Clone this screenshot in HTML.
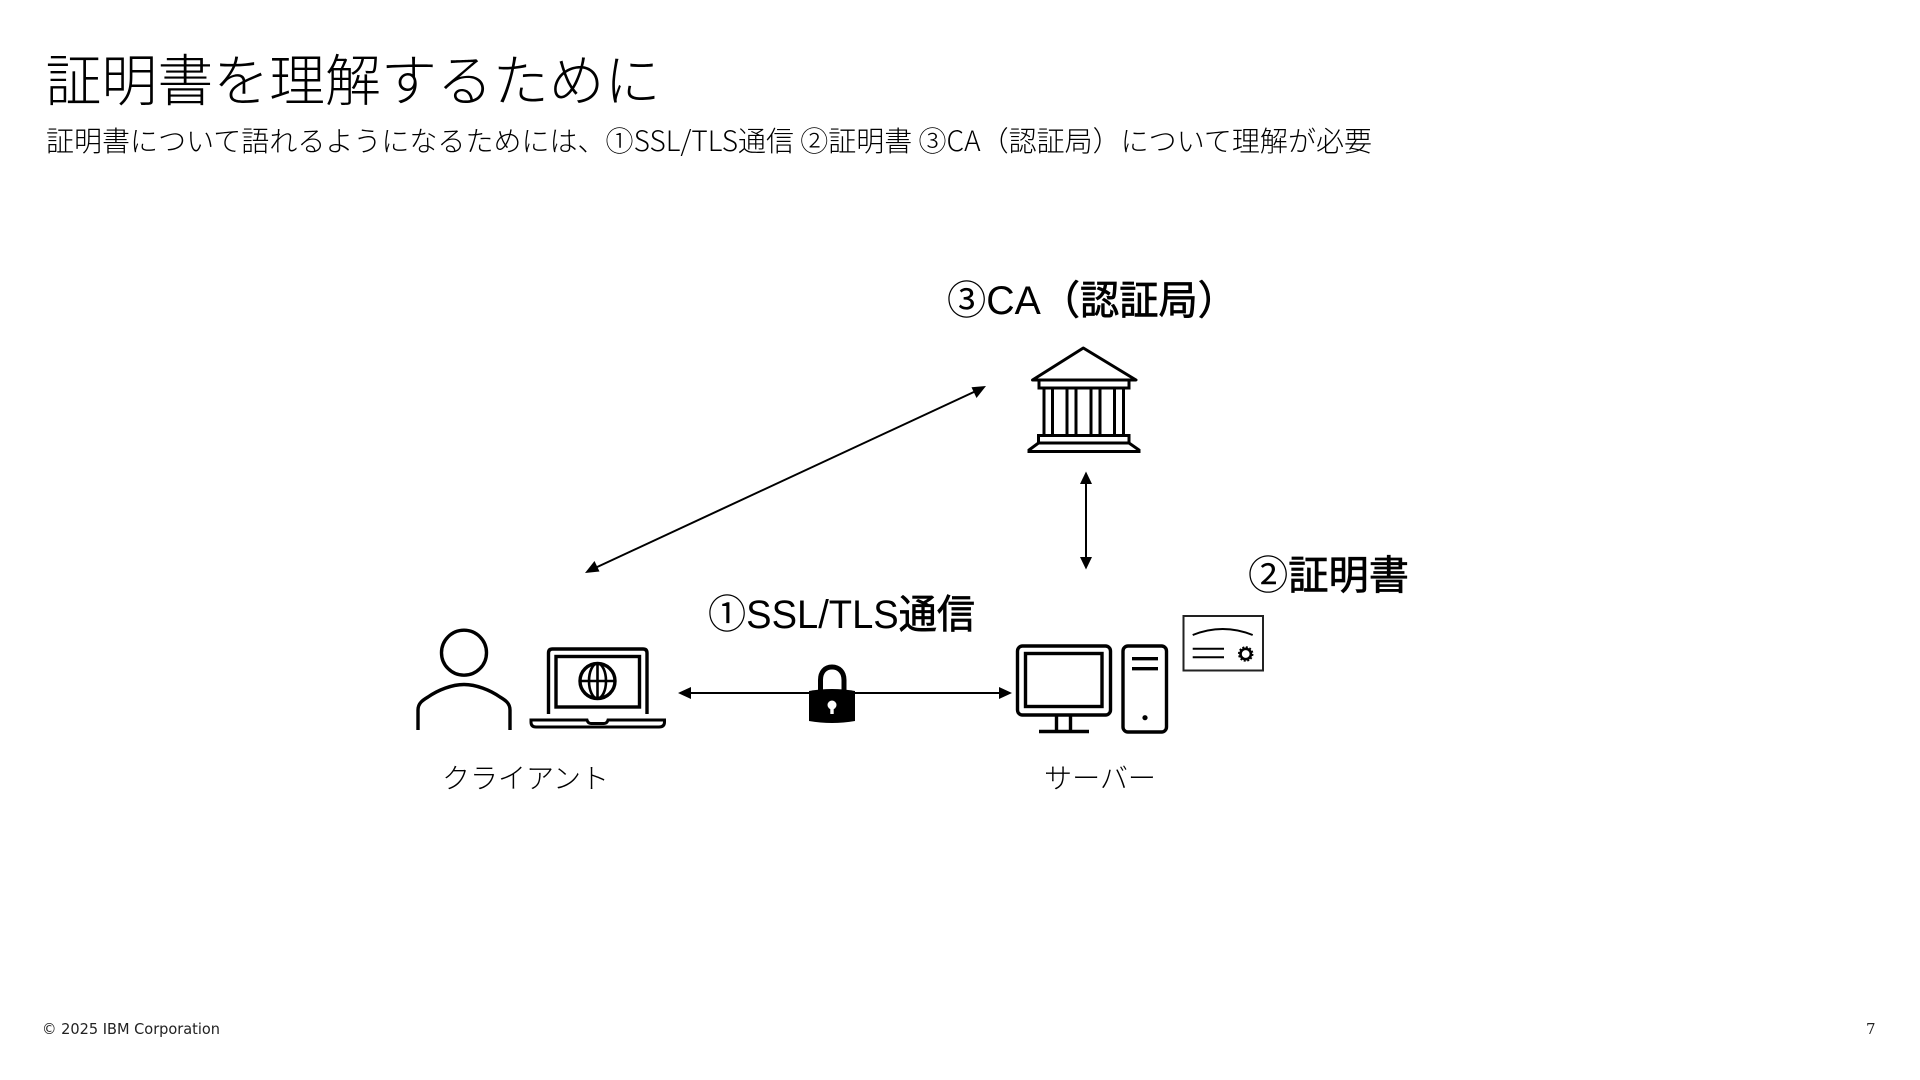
<!DOCTYPE html>
<html lang="ja"><head><meta charset="utf-8"><title>証明書を理解するために</title>
<style>
html,body{margin:0;padding:0;background:#fff;width:1920px;height:1080px;overflow:hidden}
svg{display:block}
text{font-family:"Liberation Sans","Noto Sans CJK JP",sans-serif;fill:#000}
.jp{font-family:"Noto Sans CJK JP","Liberation Sans",sans-serif}
.lab tspan.b{stroke:#000;stroke-width:.7}
</style></head><body>
<svg width="1920" height="1080" viewBox="0 0 1920 1080" xmlns="http://www.w3.org/2000/svg">
<text class="jp" x="45.500" y="101" font-size="56" font-weight="300" textLength="615" lengthAdjust="spacingAndGlyphs">証明書を理解するために</text>
<text class="jp" x="46" y="151" font-size="28" font-weight="300" textLength="1326" lengthAdjust="spacingAndGlyphs">証明書について語れるようになるためには、①SSL/TLS通信 ②証明書 ③CA（認証局）について理解が必要</text>

<text class="lab" x="947" y="314" font-size="40" textLength="290" lengthAdjust="spacingAndGlyphs">③CA<tspan class="b">（認証局）</tspan></text>
<text class="lab" x="708" y="628" font-size="40" textLength="267" lengthAdjust="spacingAndGlyphs">①SSL/TLS<tspan class="b">通信</tspan></text>
<text class="lab" x="1248" y="589" font-size="40" textLength="161" lengthAdjust="spacingAndGlyphs">②<tspan class="b">証明書</tspan></text>
<text class="jp" x="442" y="788" font-size="28" font-weight="300" textLength="167" lengthAdjust="spacingAndGlyphs">クライアント</text>
<text class="jp" x="1044" y="788" font-size="28" font-weight="300" textLength="112" lengthAdjust="spacingAndGlyphs">サーバー</text>

<!-- person -->
<g fill="none" stroke="#000" stroke-width="3.4">
<circle cx="464" cy="652.7" r="22.5"/>
<path d="M418 730V710C418 703 423 700 428 697C438 690 452 684.5 464 684.5C476 684.5 490 690 500 697C505 700 510 703 510 710V730"/>
<!-- laptop -->
<path d="M548.500 714V653Q548.500 649 552.500 649H643Q647 649 647 653V714"/>
<rect x="556" y="656.5" width="83.500" height="50.5"/>
<circle cx="597.5" cy="681" r="17.5"/>
<ellipse cx="597.5" cy="681" rx="8.5" ry="17.5" stroke-width="2.6"/>
<path d="M597.5 663.5V698.5M580 681H615" stroke-width="2.6"/>
<path d="M531 720H587Q588 723.500 591 723.500H604Q607 723.500 608 720H664.500V722Q664.500 727 659 727H536Q531 727 531 722Z" stroke-width="3"/>
</g>

<!-- arrows -->
<g stroke="#000" stroke-width="2" fill="#000">
<path d="M688 693H1002"/>
<path d="M678 693L691 687V699Z" stroke="none"/>
<path d="M1012 693L999 687V699Z" stroke="none"/>
<path d="M1086 482V559"/>
<path d="M1086 471.500L1080 484H1092Z" stroke="none"/>
<path d="M1086 569.500L1080 557H1092Z" stroke="none"/>
<path d="M595 568L976 391"/>
<path d="M986 386L971.500 387.300L976.500 398Z" stroke="none"/>
<path d="M585 573L599.500 571.500L594.500 561Z" stroke="none"/>
</g>

<!-- lock -->
<path d="M820.500 692V680C820.500 672 825 667 832 667C839 667 844 672 844 680V692" fill="none" stroke="#000" stroke-width="5"/>
<path d="M809 691Q832 687 855 691V721Q832 725 809 721Z" fill="#000"/>
<circle cx="832" cy="705" r="4.500" fill="#fff"/>
<rect x="830.300" y="706" width="3.400" height="8" fill="#fff"/>

<!-- server -->
<g fill="none" stroke="#000" stroke-width="3.4">
<rect x="1017.500" y="646" width="93" height="69" rx="5"/>
<rect x="1025.500" y="653.500" width="76.500" height="53"/>
<path d="M1056.500 716V732M1070.500 716V732"/>
<path d="M1039 731.500H1089"/>
<rect x="1123" y="646" width="43.500" height="86" rx="5"/>
<path d="M1132 658.700H1158M1132 668.700H1158"/>
</g>
<circle cx="1145" cy="717.700" r="2.600" fill="#000"/>

<!-- certificate -->
<g fill="none" stroke="#000">
<rect x="1183.500" y="616" width="79.500" height="54.500" stroke-width="2" stroke="#222"/>
<path d="M1192.700 635Q1222.700 623 1252.700 635" stroke-width="2"/>
<path d="M1192.700 648.700H1224M1192.700 657.300H1224" stroke-width="2"/>
<circle cx="1245.700" cy="654" r="5.200" stroke-width="2.600"/>
<circle cx="1245.700" cy="654" r="7" stroke-width="1.500" stroke-dasharray="2 1.660"/>
</g>

<!-- CA building -->
<g fill="none" stroke="#000" stroke-width="3">
<path d="M1032.500 380L1083.300 348L1136 380Z" stroke-linejoin="round"/>
<path d="M1039 380.500V388H1129V380.500"/>
<path d="M1044 388V435.500M1052.500 388V435.500M1067 388V435.500M1076 388V435.500M1091 388V435.500M1100 388V435.500M1114.500 388V435.500M1123.500 388V435.500"/>
<path d="M1038.500 435.500H1129V443H1038.500Z"/>
<path d="M1038.500 443L1029 450V451.500H1139V450L1129 443"/>
</g>

<text x="42" y="1034" font-size="15" style="font-family:'DejaVu Sans',sans-serif;fill:#222" textLength="178" lengthAdjust="spacingAndGlyphs">© 2025 IBM Corporation</text>
<text x="1866" y="1034" font-size="15" style="font-family:'DejaVu Serif',serif;fill:#222">7</text>
</svg>
</body></html>
